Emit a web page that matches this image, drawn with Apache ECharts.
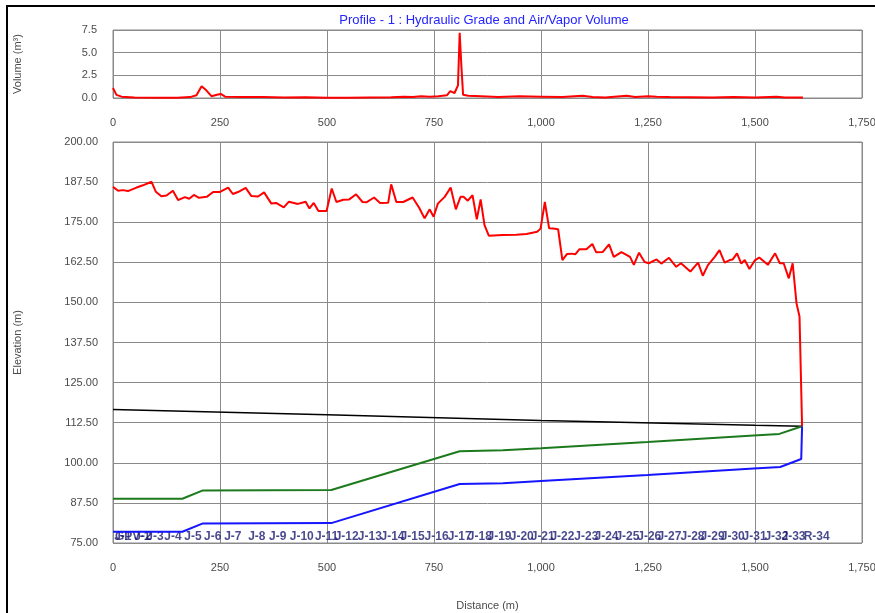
<!DOCTYPE html>
<html>
<head>
<meta charset="utf-8">
<script src="https://cdn.jsdelivr.net/npm/echarts@6/dist/echarts.min.js"></script>
<style>
  html, body { margin: 0; padding: 0; background: #fff; }
  #chart { width: 875px; height: 613px; }
</style>
</head>
<body>
<div id="chart"></div>
<script>
  // distance ticks shared by both charts
  var distTicks = [0, 250, 500, 750, 1000, 1250, 1500, 1750]

  // air/vapor volume (m3) along the profile
  var volDist = [0, 8, 20, 50, 100, 150, 180, 195, 207, 218, 230, 243, 252, 262, 300, 350, 400, 450, 500, 550, 600, 650, 680, 700, 720, 740, 760, 780, 788, 798, 806, 810, 814, 818, 830, 860, 900, 950, 1000, 1050, 1097, 1120, 1150, 1200, 1220, 1250, 1270, 1300, 1350, 1400, 1450, 1500, 1550, 1570, 1612]
  var volValue = [1.1, 0.35, 0.15, 0.05, 0.02, 0.03, 0.1, 0.3, 1.3, 0.85, 0.2, 0.35, 0.45, 0.15, 0.1, 0.12, 0.05, 0.08, 0.03, 0.02, 0.05, 0.08, 0.15, 0.1, 0.2, 0.15, 0.2, 0.3, 0.75, 0.55, 1.4, 7.2, 3.5, 0.35, 0.25, 0.2, 0.1, 0.2, 0.15, 0.1, 0.25, 0.1, 0.05, 0.25, 0.1, 0.2, 0.15, 0.1, 0.08, 0.05, 0.1, 0.05, 0.15, 0.05, 0.05]

  // hydraulic grade (red)
  var hglDist = [0, 12, 23, 35, 55, 70, 90, 100, 113, 125, 140, 152, 168, 178, 189, 201, 219, 234, 249, 269, 280, 292, 310, 323, 339, 353, 370, 381, 399, 411, 432, 450, 459, 469, 480, 499, 511, 522, 538, 552, 568, 583, 592, 610, 624, 643, 650, 662, 678, 700, 715, 728, 740, 749, 759, 775, 789, 801, 812, 819, 829, 840, 850, 859, 868, 878, 911, 942, 966, 991, 999, 1009, 1019, 1028, 1040, 1050, 1061, 1071, 1080, 1090, 1106, 1120, 1129, 1144, 1159, 1170, 1188, 1208, 1217, 1229, 1242, 1252, 1270, 1281, 1299, 1316, 1327, 1349, 1367, 1378, 1390, 1406, 1417, 1429, 1441, 1448, 1458, 1468, 1476, 1487, 1499, 1510, 1530, 1547, 1558, 1567, 1579, 1588, 1597, 1604, 1610]
  var hglElev = [186.0, 184.8, 185.0, 184.7, 185.8, 186.5, 187.6, 184.5, 183.1, 183.3, 184.8, 181.9, 182.8, 182.3, 183.5, 182.6, 182.9, 184.4, 184.4, 185.8, 183.8, 184.4, 185.7, 183.2, 183.0, 184.3, 180.8, 181.0, 179.6, 181.4, 180.7, 181.4, 179.3, 181.0, 178.5, 178.5, 185.5, 181.3, 182.0, 182.1, 183.7, 181.3, 181.2, 182.7, 181.0, 181.1, 186.8, 181.3, 181.3, 182.7, 179.6, 176.2, 179.0, 176.7, 180.8, 182.9, 185.8, 179.0, 182.9, 182.9, 181.7, 183.4, 175.9, 182.1, 174.1, 170.8, 171.0, 171.1, 171.3, 172.0, 173.0, 181.3, 173.1, 173.0, 172.8, 163.2, 165.1, 165.2, 165.0, 166.6, 166.6, 168.2, 165.6, 165.7, 168.1, 164.2, 165.7, 164.2, 161.7, 165.5, 162.6, 162.2, 163.4, 162.1, 163.9, 161.1, 162.2, 159.6, 162.4, 158.3, 161.6, 164.2, 166.3, 162.4, 163.2, 163.4, 165.3, 162.1, 163.2, 160.4, 163.0, 164.0, 161.7, 165.3, 162.2, 162.2, 157.5, 162.2, 149.7, 145.6, 111.4]

  // black line
  var blackDist = [0, 500, 1000, 1500, 1610]
  var blackElev = [116.6, 115.0, 113.2, 111.7, 111.4]

  // green line
  var greenDist = [0, 162, 210, 510, 810, 911, 1000, 1249, 1497, 1557, 1610]
  var greenElev = [88.8, 88.8, 91.4, 91.5, 103.6, 103.9, 104.5, 106.5, 108.5, 109.0, 111.4]

  // blue line
  var blueDist = [0, 162, 210, 510, 810, 911, 1000, 1249, 1497, 1559, 1608, 1610]
  var blueElev = [78.5, 78.5, 81.1, 81.2, 93.4, 93.6, 94.3, 96.2, 98.2, 98.7, 101.2, 111.4]

  // node labels along the bottom
  var nodeNames = ['J-1', 'GPV-1', 'J-2', 'J-3', 'J-4', 'J-5', 'J-6', 'J-7', 'J-8', 'J-9', 'J-10', 'J-11', 'J-12', 'J-13', 'J-14', 'J-15', 'J-16', 'J-17', 'J-18', 'J-19', 'J-20', 'J-21', 'J-22', 'J-23', 'J-24', 'J-25', 'J-26', 'J-27', 'J-28', 'J-29', 'J-30', 'J-31', 'J-32', 'J-33', 'R-34']
  var nodeDist = [23, 46, 70, 98, 140, 187, 233, 280, 336, 385, 441, 499, 546, 600, 653, 700, 756, 810, 857, 903, 955, 1004, 1050, 1106, 1153, 1202, 1253, 1300, 1354, 1401, 1448, 1499, 1550, 1590, 1644]
  var nodeLabelElev = 77.0

  function pairs (xs, ys) {
    return xs.map(function (x, i) { return [x, ys[i]] })
  }

  var font = "'Liberation Sans Narrow', 'Arial Narrow', 'Liberation Sans', Arial, sans-serif"
  var gridColor = '#8a8a8a'
  var labelColor = '#4a4a4a'

  function xAxis (gridIndex, showName) {
    return {
      type: 'value',
      gridIndex: gridIndex,
      min: distTicks[0],
      max: distTicks[distTicks.length - 1],
      interval: 250,
      name: showName ? 'Distance (m)' : '',
      nameLocation: 'middle',
      nameGap: 57,
      nameTextStyle: { color: labelColor, fontFamily: font, fontSize: 11 },
      axisLine: { show: false },
      axisTick: { show: false },
      axisLabel: {
        margin: 19,
        color: labelColor,
        fontFamily: font,
        fontSize: 11,
        formatter: function (v) { return v.toLocaleString('en-US') }
      },
      splitLine: { show: true, lineStyle: { color: gridColor, width: 1 } }
    }
  }

  var chart = echarts.init(document.getElementById('chart'))
  var option = {
    animation: false,
    backgroundColor: '#fff',
    graphic: [
      {
        type: 'polyline',
        shape: { points: [[7, 613], [7, 6], [875, 6]] },
        style: { stroke: '#000', lineWidth: 2, fill: null }
      },
      {
        type: 'text',
        x: 484,
        y: 20,
        style: {
          text: 'Profile - 1 : Hydraulic Grade and Air/Vapor Volume',
          fill: '#2424ff',
          font: '13px ' + font,
          textAlign: 'center',
          textVerticalAlign: 'middle'
        }
      }
    ],
    grid: [
      { left: 113, right: 13, top: 30, height: 68, show: true, borderColor: gridColor, borderWidth: 1, outerBoundsMode: 'none', containLabel: false },
      { left: 113, right: 13, top: 142, height: 401, show: true, borderColor: gridColor, borderWidth: 1, outerBoundsMode: 'none', containLabel: false }
    ],
    xAxis: [xAxis(0, false), xAxis(1, true)],
    yAxis: [
      {
        type: 'value',
        gridIndex: 0,
        min: 0,
        max: 7.5,
        interval: 2.5,
        name: 'Volume (m³)',
        nameLocation: 'middle',
        nameGap: 90,
        nameTextStyle: { color: labelColor, fontFamily: font, fontSize: 11 },
        axisLine: { show: false },
        axisTick: { show: false },
        axisLabel: {
          margin: 16,
          color: labelColor,
          fontFamily: font,
          fontSize: 11,
          formatter: function (v) { return v.toFixed(1) }
        },
        splitLine: { show: true, lineStyle: { color: gridColor, width: 1 } }
      },
      {
        type: 'value',
        gridIndex: 1,
        min: 75,
        max: 200,
        interval: 12.5,
        name: 'Elevation (m)',
        nameLocation: 'middle',
        nameGap: 90,
        nameTextStyle: { color: labelColor, fontFamily: font, fontSize: 11 },
        axisLine: { show: false },
        axisTick: { show: false },
        axisLabel: {
          margin: 15,
          color: labelColor,
          fontFamily: font,
          fontSize: 11,
          formatter: function (v) { return v.toFixed(2) }
        },
        splitLine: { show: true, lineStyle: { color: gridColor, width: 1 } }
      }
    ],
    series: [
      {
        type: 'line',
        xAxisIndex: 0,
        yAxisIndex: 0,
        data: pairs(volDist, volValue),
        showSymbol: false,
        lineStyle: { color: '#ff0000', width: 2 }
      },
      {
        type: 'line',
        xAxisIndex: 1,
        yAxisIndex: 1,
        data: pairs(blackDist, blackElev),
        showSymbol: false,
        lineStyle: { color: '#000', width: 1.5 }
      },
      {
        type: 'line',
        xAxisIndex: 1,
        yAxisIndex: 1,
        data: pairs(greenDist, greenElev),
        showSymbol: false,
        lineStyle: { color: '#1c7a1c', width: 2 }
      },
      {
        type: 'line',
        xAxisIndex: 1,
        yAxisIndex: 1,
        data: pairs(blueDist, blueElev),
        showSymbol: false,
        lineStyle: { color: '#1515ff', width: 2 }
      },
      {
        type: 'line',
        xAxisIndex: 1,
        yAxisIndex: 1,
        data: pairs(hglDist, hglElev),
        showSymbol: false,
        lineStyle: { color: '#ff0000', width: 2 }
      },
      {
        type: 'scatter',
        xAxisIndex: 1,
        yAxisIndex: 1,
        symbolSize: 0,
        data: nodeNames.map(function (n, i) {
          return { name: n, value: [nodeDist[i], nodeLabelElev] }
        }),
        label: {
          show: true,
          position: 'inside',
          formatter: '{b}',
          color: '#1a1a70',
          fontFamily: font,
          fontWeight: 'bold',
          fontSize: 12
        }
      }
    ]
  }
  chart.setOption(option)
</script>
</body>
</html>
